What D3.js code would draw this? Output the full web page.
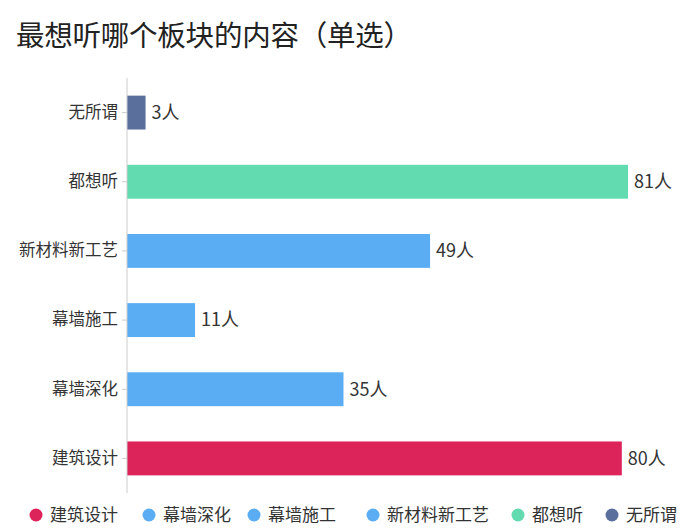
<!DOCTYPE html>
<html>
<head>
<meta charset="utf-8">
<script src="https://cdn.jsdelivr.net/npm/d3@7"></script>
<style>
  body { margin: 0; background: #fff; }
  text { font-family: "Noto Sans CJK SC", "Noto Sans", sans-serif; }
</style>
</head>
<body>
<div id="chart"></div>
<script>
// data, bottom to top
const categories = ["建筑设计", "幕墙深化", "幕墙施工", "新材料新工艺", "都想听", "无所谓"];
const counts = [80, 35, 11, 49, 81, 3];
const colors = ["#dc245b", "#5aadf2", "#5aadf2", "#5aadf2", "#62dbb0", "#5b6f9c"];
const unit = "人";

const width = 696, height = 529;
const margin = { top: 78, right: 68, bottom: 36, left: 127 };

const svg = d3.select("#chart")
    .append("svg")
    .attr("width", width)
    .attr("height", height);

svg.append("text")
    .attr("x", 16)
    .attr("y", 46)
    .attr("font-size", 28.5)
    .attr("fill", "#222")
    .attr("textLength", 396)
    .attr("lengthAdjust", "spacing")
    .text("最想听哪个板块的内容（单选）");

const y = d3.scaleBand()
    .domain(categories)
    .range([height - margin.bottom, margin.top])
    .paddingInner(0.51)
    .paddingOuter(0.255);

const x = d3.scaleLinear()
    .domain([0, 81])
    .range([margin.left, 628]);

const g = svg.append("g");

g.selectAll(".bar")
    .data(categories)
    .enter()
    .append("rect")
    .attr("class", "bar")
    .attr("x", x(0))
    .attr("y", d => y(d))
    .attr("width", (d, i) => x(counts[i]) - x(0))
    .attr("height", y.bandwidth())
    .attr("fill", (d, i) => colors[i]);

g.selectAll(".val")
    .data(categories)
    .enter()
    .append("text")
    .attr("x", (d, i) => x(counts[i]) + 6)
    .attr("y", d => y(d) + y.bandwidth() / 2)
    .attr("dy", "0.35em")
    .attr("font-size", 18)
    .attr("fill", "#333")
    .text((d, i) => counts[i] + unit);

const axis = svg.append("g")
    .attr("transform", `translate(${margin.left},0)`)
    .call(d3.axisLeft(y).tickSize(5).tickPadding(4));
axis.select(".domain").attr("stroke", "#ccc").attr("d", `M0,${margin.top}V${height - margin.bottom}`);
axis.selectAll(".tick line").attr("stroke", "#ccc");
axis.selectAll(".tick text")
    .attr("font-size", 16.5)
    .attr("fill", "#333")
    .style("font-family", '"Noto Sans CJK SC", sans-serif');

// legend
const legendX = [36, 149, 254, 373, 518, 612];
const legend = svg.append("g")
    .selectAll("g")
    .data(categories)
    .enter()
    .append("g")
    .attr("transform", (d, i) => `translate(${legendX[i]},515)`);

legend.append("circle")
    .attr("r", 6.5)
    .attr("fill", (d, i) => colors[i]);

legend.append("text")
    .attr("x", 14)
    .attr("dy", "0.35em")
    .attr("font-size", 17)
    .attr("fill", "#333")
    .text(d => d);
</script>
</body>
</html>
